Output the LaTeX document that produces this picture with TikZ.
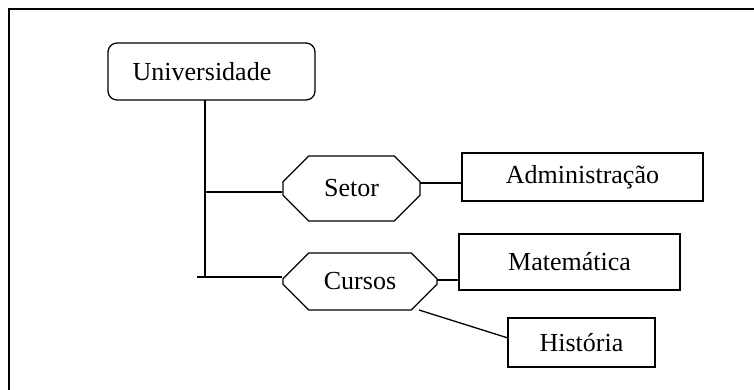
\documentclass[tikz,border=0pt]{standalone}
\usepackage{fontspec}
\setmainfont{Liberation Serif}
\usetikzlibrary{shapes.misc}
\begin{document}
\begin{tikzpicture}[x=1pt,y=-1pt,
  every node/.style={font=\fontsize{26}{30}\selectfont},
  conn/.style={line width=1.3pt},
  rbox/.style={draw, line width=1.3pt, rounded corners=9pt, inner sep=0pt},
  sqbox/.style={draw, line width=1.3pt, inner sep=0pt},
  octo/.style={draw, line width=1.3pt, chamfered rectangle, chamfered rectangle xsep=18pt, chamfered rectangle ysep=17pt, inner sep=0pt}]
\useasboundingbox (0,0) rectangle (754,389);
% frame
\coordinate (fa) at (9,400);
\coordinate (fb) at (9,9);
\coordinate (fc) at (760,9);
\draw[line width=1.6pt] (fa) -- (fb) -- (fc);
% nodes
\node[rbox, minimum width=207pt, minimum height=57pt] (univ) at (211.5,71.5) {};
\node[inner sep=0pt] (univt) at (202,72) {Universidade};
\node[octo, minimum width=137pt, minimum height=65pt] (setor) at (351.5,188.5) {Setor};
\node[octo, minimum width=154pt, minimum height=57pt] (cursos) at (360,281.5) {Cursos};
\node[sqbox, minimum width=241pt, minimum height=48pt] (adm) at (582.5,177) {Administração};
\node[sqbox, minimum width=221pt, minimum height=56pt] (mat) at (569.5,262) {Matemática};
\node[sqbox, minimum width=147pt, minimum height=49pt] (hist) at (581.5,342.5) {História};
% connectors
\coordinate (vtop) at (205,100);
\coordinate (vbot) at (205,277);
\coordinate (jset) at (205,192);
\coordinate (jcur) at (197,277);
\draw[conn] (vtop) -- (vbot);
\draw[conn] (jset) -- (jset -| setor.west);
\draw[conn] (jcur) -- (jcur -| cursos.west);
\coordinate (sa) at (420,183);
\draw[conn] (sa) -- (sa -| adm.west);
\coordinate (cm) at (437,280);
\draw[conn] (cm) -- (cm -| mat.west);
\coordinate (ch) at (419,310);
\coordinate (hh) at (508,338);
\draw[conn] (ch) -- (hh);
\end{tikzpicture}
\end{document}
